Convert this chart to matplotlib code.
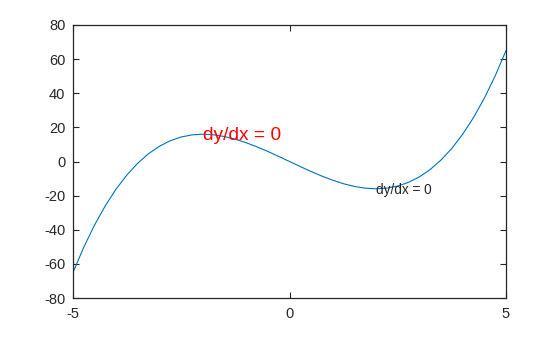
import matplotlib
matplotlib.use("Agg")
import matplotlib.pyplot as plt

plt.rcParams["font.family"] = ["Liberation Sans", "DejaVu Sans"]
plt.rcParams["axes.unicode_minus"] = False

x_vals = [-5.0, -4.75, -4.5, -4.25, -4.0, -3.75, -3.5, -3.25, -3.0, -2.75, -2.5,
          -2.25, -2.0, -1.75, -1.5, -1.25, -1.0, -0.75, -0.5, -0.25, 0.0,
          0.25, 0.5, 0.75, 1.0, 1.25, 1.5, 1.75, 2.0, 2.25, 2.5,
          2.75, 3.0, 3.25, 3.5, 3.75, 4.0, 4.25, 4.5, 4.75, 5.0]
y_vals = [-65.0, -50.17, -37.13, -25.77, -16.0, -7.73, -0.88, 4.67, 9.0, 12.20, 14.38,
          15.61, 16.0, 15.64, 14.63, 13.05, 11.0, 8.58, 5.88, 2.98, 0.0,
          -2.98, -5.88, -8.58, -11.0, -13.05, -14.63, -15.64, -16.0, -15.61, -14.38,
          -12.20, -9.0, -4.67, 0.88, 7.73, 16.0, 25.77, 37.13, 50.17, 65.0]
x_ticks = [-5, 0, 5]
y_ticks = [-80, -60, -40, -20, 0, 20, 40, 60, 80]
label_big = "dy/dx = 0"
label_small = "dy/dx = 0"

fig = plt.figure(figsize=(5.6, 3.37), dpi=100)
ax = fig.add_axes([73/560, 1-298/337, (506-73)/560, (298-25)/337])
ax.plot(x_vals, y_vals, color="#0072BD", linewidth=0.8)
ax.set_xlim(-5, 5)
ax.set_ylim(-80, 80)
ax.set_xticks(x_ticks)
ax.set_yticks(y_ticks)
ax.tick_params(direction="in", top=True, right=True, length=4, width=0.8,
               labelsize=10.5, labelcolor="#262626", color="#262626")
ax.tick_params(axis="x", pad=6.5)
ax.tick_params(axis="y", pad=5.5)
for s in ax.spines.values():
    s.set_linewidth(0.9)
    s.set_color("#262626")
ax.text(-2.0, 15.5, label_big, color="red", fontsize=13.8, va="center", ha="left")
ax.text(2.0, -16.5, label_small, color="#262626", fontsize=9.8, va="center", ha="left")
fig.savefig("out.png", dpi=100)
